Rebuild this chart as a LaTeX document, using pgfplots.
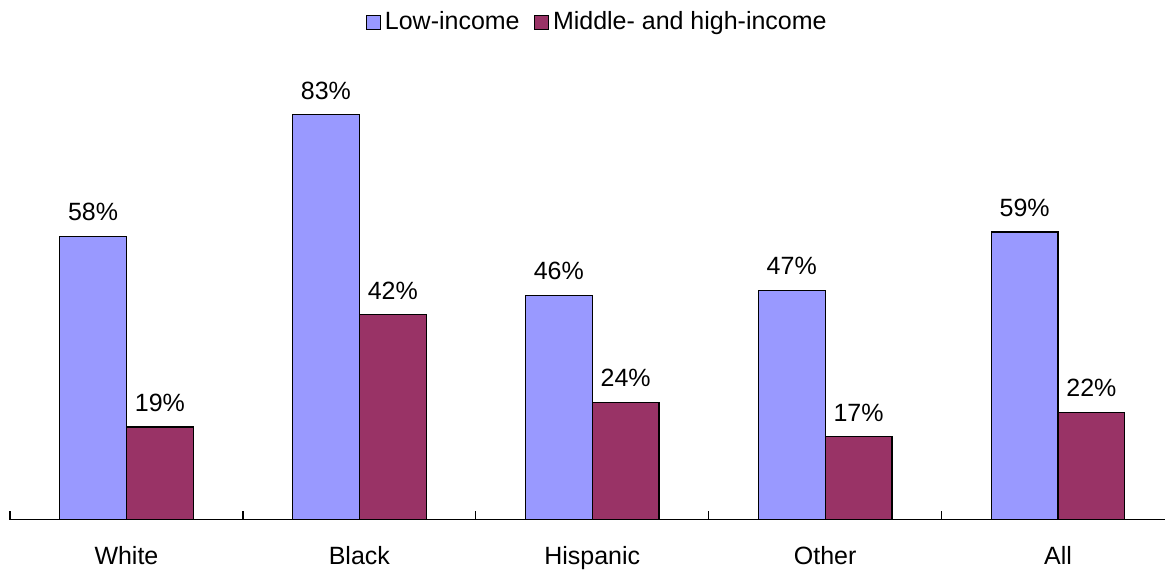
\documentclass[border=0pt]{standalone}
\usepackage{fontspec}
\setmainfont{Liberation Sans}
\usepackage{pgfplots}
\pgfplotsset{compat=1.18}
\definecolor{lowc}{HTML}{9999FF}
\definecolor{midc}{HTML}{993366}
\newcommand{\cf}{\fontsize{12.5}{15}\selectfont}
\begin{document}
\cf
\begin{tikzpicture}
\begin{axis}[
  at={(0,0)}, anchor=south west,
  scale only axis,
  width=578pt, height=244pt,
  xmin=-0.5, xmax=4.461,
  ymin=0, ymax=100,
  axis x line*=bottom,
  axis y line=none,
  axis line style={-, line width=0.6pt},
  xtick={0,1,2,3,4},
  xticklabels={White,Black,Hispanic,Other,All},
  major tick length=0pt,
  extra x ticks={-0.5,0.5,1.5,2.5,3.5},
  extra x tick labels={},
  extra x tick style={tick align=inside, major tick length=4.5pt, tick style={line width=0.7pt, draw=black}},
  xticklabel style={yshift=-9pt, font=\cf},
  clip=false,
  /pgf/number format/assume math mode=true,
  ybar,
  bar width=0.287,
  nodes near coords={\pgfmathprintnumber{\pgfplotspointmeta}\%},
  every node near coord/.append style={font=\cf, inner sep=0pt, yshift=7.5pt, anchor=south},
  legend style={at={(0.509,1.02)}, anchor=center, draw=none, legend columns=2,
    font=\cf, /tikz/every even column/.append style={column sep=5pt}},
  legend image code/.code={\draw[#1, line width=0.7pt] (0pt,-3.5pt) rectangle (7pt,3.5pt);},
  legend cell align=left,
]
\addplot[fill=lowc, draw=black, line width=0.6pt, bar shift=-0.1435] coordinates {(0,58) (1,83) (2,46) (3,47) (4,59)};
\addplot[fill=midc, draw=black, line width=0.6pt, bar shift=0.1435] coordinates {(0,19) (1,42) (2,24) (3,17) (4,22)};
\legend{Low-income, Middle- and high-income}
\end{axis}
\path[use as bounding box] (-5pt,-24.5pt) rectangle (578pt,260pt);
\end{tikzpicture}
\end{document}
